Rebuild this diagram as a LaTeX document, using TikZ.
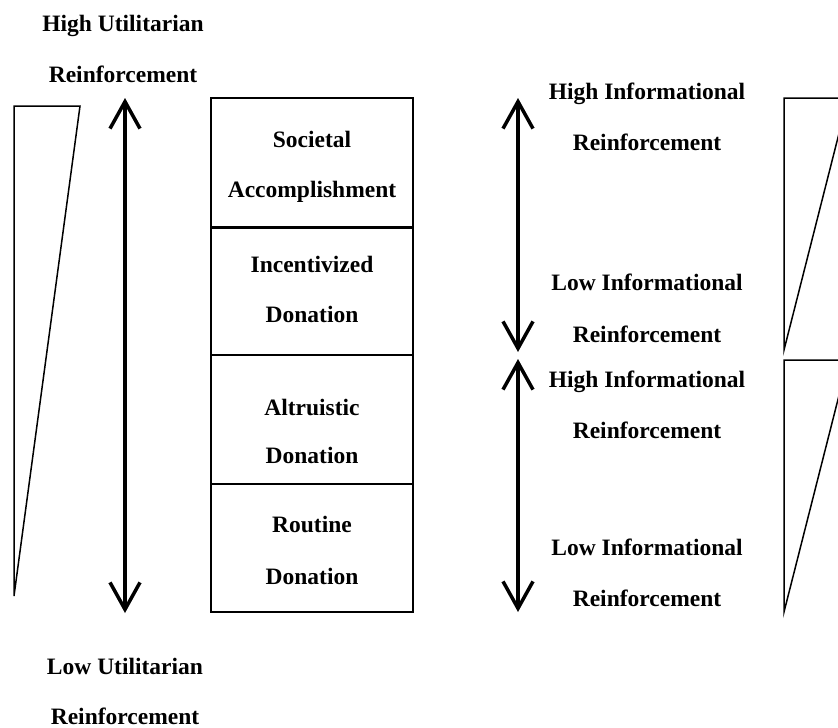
\documentclass[tikz,border=0pt]{standalone}
\usepackage{fontspec}
\setmainfont{Liberation Serif}
\usetikzlibrary{arrows.meta}
\begin{document}
\begin{tikzpicture}[x=1pt,y=-1pt,
  lbl/.style={font=\bfseries\fontsize{23.5}{28}\selectfont, inner sep=0pt, anchor=base},
  tri/.style={line width=1.5pt, line join=miter},
  boxline/.style={line width=2pt},
  sepline/.style={line width=2pt},
  dbl/.style={line width=3.5pt, {Straight Barb[length=27pt,width=30pt]}-{Straight Barb[length=27pt,width=30pt]}},
]
\useasboundingbox (0,0) rectangle (838,728);

% utilitarian scale on the left
\node[lbl] (hu1) at (123,31) {High Utilitarian};
\node[lbl] (hu2) at (123,82) {Reinforcement};
\node[lbl] (lu1) at (125,674) {Low Utilitarian};
\node[lbl] (lu2) at (125,724) {Reinforcement};

\draw[tri] (14,106) -- (80,106) -- (14,596) -- cycle;

\coordinate (ua) at (125,98);
\coordinate (ub) at (125,613);
\draw[dbl] (ua) -- (ub);

% stacked categories of donation
\coordinate (bt) at (211,98);
\coordinate (bb) at (413,612);
\draw[boxline] (bt) rectangle (bb);
\coordinate (s1l) at (211,227); \coordinate (s1r) at (413,227);
\coordinate (s2l) at (211,355); \coordinate (s2r) at (413,355);
\coordinate (s3l) at (211,484); \coordinate (s3r) at (413,484);
\draw[line width=3pt] (s1l) -- (s1r);
\draw[sepline] (s2l) -- (s2r);
\draw[sepline] (s3l) -- (s3r);

\node[lbl] (c1a) at (312,147) {Societal};
\node[lbl] (c1b) at (312,197) {Accomplishment};
\node[lbl] (c2a) at (312,272) {Incentivized};
\node[lbl] (c2b) at (312,322) {Donation};
\node[lbl] (c3a) at (312,415) {Altruistic};
\node[lbl] (c3b) at (312,463) {Donation};
\node[lbl] (c4a) at (312,532) {Routine};
\node[lbl] (c4b) at (312,584) {Donation};

% informational scales on the right
\coordinate (ia) at (518,98);
\coordinate (ib) at (518,352);
\coordinate (ic) at (518,359);
\coordinate (id) at (518,612);
\draw[dbl] (ia) -- (ib);
\draw[dbl] (ic) -- (id);

\node[lbl] (hi1) at (647,99) {High Informational};
\node[lbl] (hi2) at (647,150) {Reinforcement};
\node[lbl] (li1) at (647,290) {Low Informational};
\node[lbl] (li2) at (647,342) {Reinforcement};
\node[lbl] (hi3) at (647,387) {High Informational};
\node[lbl] (hi4) at (647,438) {Reinforcement};
\node[lbl] (li3) at (647,555) {Low Informational};
\node[lbl] (li4) at (647,606) {Reinforcement};

\begin{scope}
  \clip (0,0) rectangle (838,728);
  \draw[tri] (784,98) -- (848,98) -- (784,350) -- cycle;
  \draw[tri] (784,360) -- (848,360) -- (784,612) -- cycle;
\end{scope}
\end{tikzpicture}
\end{document}
